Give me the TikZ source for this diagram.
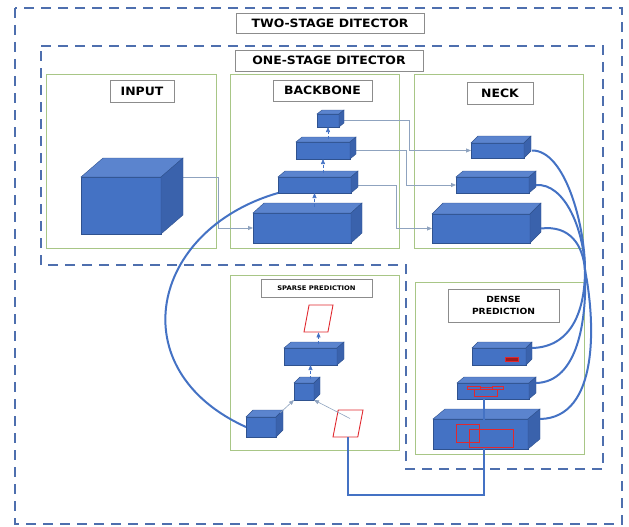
\documentclass[tikz,border=0pt]{standalone}
\usepackage{fontspec}
\usepackage{tikz}
\usetikzlibrary{arrows.meta, positioning, fit, calc, shapes.geometric, shadows}
\newfontfamily\headfont{DejaVu Sans}[FakeStretch=1.08]
\definecolor{stageblue}{HTML}{4E6FAE}
\definecolor{panelgreen}{HTML}{A8C686}
\definecolor{cubefront}{HTML}{4472C4}
\definecolor{cubetopc}{HTML}{5B84CE}
\definecolor{cubesidec}{HTML}{3A62AC}
\definecolor{cubeedge}{HTML}{2F528F}
\definecolor{linkgray}{HTML}{8FA3BF}
\definecolor{boxred}{HTML}{E0282E}
\definecolor{tagrim}{HTML}{8C8C8C}

\begin{document}
\begin{tikzpicture}[x=1pt, y=-1pt,
    stage/.style={stageblue, line width=2.2pt, dash pattern=on 10pt off 7pt},
    panel/.style={draw=panelgreen, line width=1pt, inner sep=0pt, outer sep=0pt},
    tag/.style={draw=tagrim, fill=white, line width=0.8pt, inner sep=0pt,
      font=\headfont\bfseries\fontsize{11.5}{13}\selectfont,
      drop shadow={shadow xshift=1pt, shadow yshift=-1pt, opacity=0.35}},
    cube/.style={fill=cubefront, draw=cubeedge, line width=0.4pt, inner sep=0pt, outer sep=0pt, anchor=north west},
    cubetop/.style={fill=cubetopc, draw=cubeedge, line width=0.4pt},
    cubeside/.style={fill=cubesidec, draw=cubeedge, line width=0.4pt},
    bbox/.style={draw=boxred, line width=0.9pt, trapezium, trapezium left angle=75,
      trapezium right angle=105, trapezium stretches=true, minimum height=27pt, inner sep=2pt},
    link/.style={linkgray, line width=0.8pt, -{Triangle[length=5pt,width=4pt]}},
    upflow/.style={cubefront, line width=0.6pt, densely dashed, -{Triangle[length=5pt,width=4pt]}},
    flow/.style={cubefront, line width=2pt}]
    \useasboundingbox (0,0) rectangle (629,527);
    \draw[stage] (15,8) rectangle (622,524);
    \draw[stage] (41,46) -- (603,46) -- (603,469) -- (406,469) -- (406,265) -- (41,265) -- cycle;
    \node[tag, minimum width=188pt, minimum height=20pt] (twostage) at (330,23) {TWO-STAGE DITECTOR};
    \node[tag, minimum width=188pt, minimum height=21pt] (onestage) at (329,60.5) {ONE-STAGE DITECTOR};

    \node[panel, fit={(46,75) (216,248)}] (inputbox) {};
    \node[panel, fit={(230,75) (399,248)}] (backbonebox) {};
    \node[panel, fit={(414,75) (583,248)}] (neckbox) {};
    \node[panel, fit={(230,275) (399,450)}] (sparsebox) {};
    \node[panel, fit={(415,282) (584,454)}] (densebox) {};
    \node[tag, minimum width=64pt, minimum height=22pt] (inputlab) at (142,91) {INPUT};
    \node[tag, minimum width=99pt, minimum height=21pt] (backbonelab) at (322.5,90.5) {BACKBONE};
    \node[tag, minimum width=66pt, minimum height=22pt] (necklab) at (500,93) {NECK};
    \node[tag, minimum width=111pt, minimum height=18pt,
      font=\headfont\bfseries\fontsize{6.3}{7}\selectfont] (sparselab) at (316.5,288) {SPARSE PREDICTION};
    \node[tag, minimum width=111pt, minimum height=33pt, align=center,
      font=\headfont\bfseries\fontsize{8.5}{12.5}\selectfont] (denselab) at (503.5,305.5) {DENSE\\PREDICTION};

    \node[cube, minimum width=80pt, minimum height=57pt] (img) at (81,177) {};
    \draw[link] ([xshift=22pt]img.north east) -- ++(35,0) |- (253,228);
    \draw[link] (339,120.5) -- ++(70,0) |- (471,150.5);
    \draw[link] (350,150.5) -- ++(56,0) |- (456,185);
    \draw[link] (351,185) -- ++(45,0) |- (432,228.5);

    \foreach \n/\x/\y/\w/\h/\dx/\dy in {%
      img/81/177/80/57/22/19,
      bb1/253/213/98/30/11/10, bb2/278/177/73/16/7/6, bb3/296/142/54/17/6/5, bb4/317/114/22/13/5/4,
      nk1/471/143/53/15/7/7, nk2/456/177/73/16/7/6, nk3/432/214/98/29/11/11,
      sp1/246/417/30/20/7/7, sp2/294/383/20/17/6/6, sp3/284/348/53/17/7/6,
      ds1/472/348/54/17/6/6, ds2/457/383/72/16/7/6, ds3/433/419/95/30/12/10%
    } {
      \node[cube, minimum width=\w pt, minimum height=\h pt] (\n) at (\x,\y) {};
      \filldraw[cubetop] (\n.north west) -- ++(\dx,-\dy) -- ++(\w,0) -- (\n.north east) -- cycle;
      \filldraw[cubeside] (\n.north east) -- ++(\dx,-\dy) -- ++(0,\h) -- (\n.south east) -- cycle;
    }

    \node[bbox, minimum width=29pt] (pg1) at (318.5,318.5) {};
    \node[bbox, minimum width=30pt] (pg2) at (348,423.5) {};

    \draw[upflow] ($(bb2.south |- bb1.north)+(0,-6)$) -- (bb2.south);
    \draw[upflow] ($(bb3.south |- bb2.north)+(0,-4)$) -- (bb3.south);
    \draw[upflow] ($(bb4.south |- bb3.north)+(0,-3)$) -- (bb4.south);
    \draw[upflow] ($(sp3.south |- sp2.north)+(0,-4)$) -- (sp3.south);
    \draw[upflow] ($(pg1.south |- sp3.north)+(0,-4)$) -- (pg1.south);
    \draw[link, line width=0.6pt] ($(sp1.north east)+(4,-4)$) -- (sp2.south west);
    \draw[link, line width=0.6pt] ($(pg2.center)+(2,-5)$) -- (sp2.south east);

    \coordinate (hub) at (585,270);
    \draw[flow] (bb2.south west) .. controls (150,230) and (120,370) .. (sp1.west);
    \draw[flow] ([xshift=8pt]nk1.east) .. controls (565,150) and (585,225) .. (hub)
      .. controls (585,310) and (572,347) .. ([xshift=6pt]ds1.north east);
    \draw[flow] ([xshift=7pt]nk2.east) .. controls (565,183) and (584,230) .. (hub)
      .. controls (587,320) and (578,382) .. ([xshift=7pt]ds2.north east);
    \draw[flow] ([xshift=11pt]nk3.east) .. controls (570,225) and (583,245) .. (hub)
      .. controls (595,320) and (600,418) .. ([xshift=12pt]ds3.north east);
    \draw[flow] ([xshift=-9pt]ds2.south) -- ++(0,96) -| (pg2.south);

    \fill[boxred!70!black, draw=boxred, line width=0.5pt] (505,357) rectangle (518,361);
    \draw[boxred, line width=1pt] (467,386) rectangle (480,389) (492,386) rectangle (503,389)
      (480,387.5) -- (492,387.5) (474,389) rectangle (497,396);
    \draw[boxred, line width=1pt] (456,424) rectangle (479,442) (469,429) rectangle (513,447);
  \end{tikzpicture}
\end{document}
